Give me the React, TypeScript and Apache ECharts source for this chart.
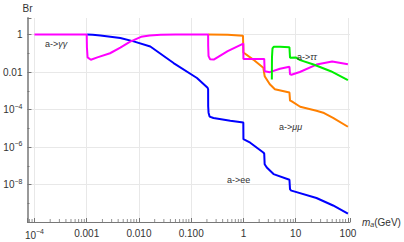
import React, { useEffect, useRef } from "react";
import * as echarts from "echarts";

// a -> gamma gamma (magenta): [mass GeV, Br]
const brGammaGamma: [number, number][] = [
  [1e-4, 1], [0.001, 1], [0.00101, 0.2], [0.00104, 0.06], [0.0012, 0.045],
  [0.0016, 0.06], [0.0028, 0.1], [0.0044, 0.2], [0.0068, 0.42], [0.0079, 0.5],
  [0.011, 0.75], [0.016, 0.88], [0.026, 0.96], [0.05, 0.99], [0.1, 1], [0.211, 1],
  [0.2115, 0.25], [0.215, 0.07], [0.23, 0.048], [0.27, 0.046], [0.5, 0.13],
  [0.95, 0.31], [0.995, 0.33], [1.0, 0.05], [1.5, 0.05], [2.5, 0.05],
  [2.55, 0.011], [3.2, 0.0098], [5, 0.015], [7.6, 0.019], [7.8, 0.0075],
  [8.3, 0.0072], [12, 0.01], [25, 0.025], [50, 0.036], [100, 0.026],
];

// a -> e e (blue)
const brEE: [number, number][] = [
  [0.00102, 1], [0.0013, 0.98], [0.00183, 0.89], [0.0044, 0.65], [0.0079, 0.43],
  [0.0165, 0.23], [0.046, 0.03], [0.129, 0.0048], [0.206, 0.00145], [0.211, 0.0012],
  [0.2115, 1.5e-4], [0.215, 6.8e-5], [0.225, 4.2e-5], [0.267, 3.5e-5], [0.56, 2.5e-5],
  [0.995, 2e-5], [1.0, 2.6e-6], [1.35, 1.7e-6], [2.4, 5.1e-7], [2.5, 4.5e-7],
  [2.55, 1.2e-7], [2.8, 8e-8], [3.77, 3.6e-8], [7.6, 1.8e-8], [7.8, 5.5e-9],
  [8.3, 4.7e-9], [25, 1.9e-9], [52, 7.6e-10], [100, 2.8e-10],
];

// a -> mu mu (orange)
const brMuMu: [number, number][] = [
  [0.2114, 0.99], [0.5, 0.97], [0.98, 0.86], [1.0, 0.11], [1.54, 0.046],
  [2.4, 0.017], [2.55, 0.006], [3.2, 0.0022], [4.0, 0.0012], [7.6, 0.0008],
  [7.8, 0.0003], [8.3, 0.00028], [12.2, 0.00014], [25, 8.5e-5], [35, 6.5e-5],
  [52, 3.6e-5], [100, 1.2e-5],
];

// a -> tau tau (green)
const brTauTau: [number, number][] = [
  [3.5, 0.004], [3.52, 0.06], [3.6, 0.18], [3.8, 0.22], [5, 0.22], [7.6, 0.21],
  [7.8, 0.058], [10, 0.06], [12.2, 0.043], [22, 0.025], [47, 0.011], [100, 0.0037],
];

const xTickExponents = [-4, -3, -2, -1, 0, 1, 2];
const xTickLabels = ["{b|10}{s|−4}", "0.001", "0.010", "0.100", "1", "10", "100"];
const yTickExponents = [0, -2, -4, -6, -8];
const yTickLabels = ["1", "0.01", "{b|10}{s|−4}", "{b|10}{s|−6}", "{b|10}{s|−8}"];

const curveLabels = [
  { text: "a->{g|γγ}", x: 45, y: 44 },
  { text: "a->{g|ττ}", x: 297, y: 57 },
  { text: "a->{g|μμ}", x: 279, y: 127 },
  { text: "a->ee", x: 227, y: 180 },
];

const X_MIN = -4.134;
const X_MAX = 2.04;
const Y_MIN = -10;
const Y_MAX = 0.88;

const toLog = (d: [number, number][]) => d.map(([m, b]) => [Math.log10(m), Math.log10(b)]);

const FONT = "Liberation Sans, Arial, sans-serif";
const rich = {
  b: { fontSize: 10, color: "#333", fontFamily: FONT },
  s: { fontSize: 7, color: "#333", fontFamily: FONT, padding: [0, 0, 7, 0] },
};

export default function App() {
  const ref = useRef<HTMLDivElement>(null);
  useEffect(() => {
    if (!ref.current) return;
    const chart = echarts.init(ref.current, undefined, { renderer: "svg" });

    const minorTicks: number[][] = [];
    for (let n = -5; n <= 1; n++) {
      for (let k = 2; k <= 9; k++) {
        const v = Math.log10(k) + n;
        if (v >= X_MIN && v <= X_MAX) minorTicks.push([v, Y_MIN]);
      }
    }

    const isInt = (v: number) => Math.abs(v - Math.round(v)) < 1e-6;

    chart.setOption({
      animation: false,
      backgroundColor: "#fff",
      grid: { left: 27, right: 54, top: 18, bottom: 20, containLabel: false },
      xAxis: {
        type: "value",
        min: X_MIN,
        max: X_MAX,
        minInterval: 1,
        maxInterval: 1,
        name: "{i|m}{sub|a}{n|(GeV)}",
        nameLocation: "end",
        nameGap: 12,
        nameTextStyle: {
          rich: {
            i: { fontSize: 10, fontStyle: "italic", color: "#333", fontFamily: FONT },
            sub: { fontSize: 7, fontStyle: "italic", color: "#333", fontFamily: FONT, padding: [5, 0, 0, 0] },
            n: { fontSize: 10, color: "#333", fontFamily: FONT },
          },
        },
        axisLine: { show: true, onZero: false, lineStyle: { color: "#777", width: 1 } },
        axisTick: { show: true, inside: true, length: 4, lineStyle: { color: "#777" } },
        splitLine: { show: true, showMinLine: false, showMaxLine: false, lineStyle: { color: "#e8e8e8", width: 1 } },
        axisLabel: {
          margin: 6,
          fontSize: 10,
          color: "#333",
          fontFamily: FONT,
          rich,
          formatter: (v: number) => {
            if (!isInt(v)) return "";
            const i = xTickExponents.indexOf(Math.round(v));
            return i >= 0 ? xTickLabels[i] : "";
          },
        },
      },
      yAxis: {
        type: "value",
        min: Y_MIN,
        max: Y_MAX,
        interval: 2,
        name: "Br",
        nameLocation: "end",
        nameGap: 5,
        nameTextStyle: { fontSize: 10, color: "#333", fontFamily: FONT, align: "center" },
        axisLine: { show: true, onZero: false, lineStyle: { color: "#999", width: 2 } },
        axisTick: { show: true, inside: true, length: 4, lineStyle: { color: "#777" } },
        minorTick: { show: true, splitNumber: 2, length: 2, lineStyle: { color: "#777" } },
        splitLine: { show: true, showMinLine: false, showMaxLine: false, lineStyle: { color: "#e8e8e8", width: 1 } },
        axisLabel: {
          margin: 5,
          fontSize: 10,
          color: "#333",
          fontFamily: FONT,
          rich,
          formatter: (v: number) => {
            if (!isInt(v)) return "";
            const i = yTickExponents.indexOf(Math.round(v));
            return i >= 0 ? yTickLabels[i] : "";
          },
        },
      },
      series: [
        {
          type: "scatter",
          silent: true,
          data: minorTicks,
          symbol: "rect",
          symbolSize: [1, 3],
          symbolOffset: [0, -1.5],
          itemStyle: { color: "#777" },
          z: 1,
        },
        { name: "ee", type: "line", data: toLog(brEE), showSymbol: false, lineStyle: { color: "#0000ff", width: 2 }, itemStyle: { color: "#0000ff" }, z: 2 },
        { name: "mumu", type: "line", data: toLog(brMuMu), showSymbol: false, lineStyle: { color: "#ff8000", width: 2 }, itemStyle: { color: "#ff8000" }, z: 3 },
        { name: "gammagamma", type: "line", data: toLog(brGammaGamma), showSymbol: false, lineStyle: { color: "#ff00ff", width: 2 }, itemStyle: { color: "#ff00ff" }, z: 4 },
        { name: "tautau", type: "line", data: toLog(brTauTau), showSymbol: false, lineStyle: { color: "#00ee00", width: 2 }, itemStyle: { color: "#00ee00" }, z: 5 },
      ],
      graphic: curveLabels.map((l) => ({
        type: "text",
        x: l.x,
        y: l.y,
        z: 100,
        style: {
          text: l.text,
          fontSize: 9,
          fill: "#333",
          fontFamily: FONT,
          verticalAlign: "middle",
          rich: { g: { fontSize: 9, fontStyle: "italic", fill: "#333", fontFamily: FONT } },
        },
      })),
    });
    return () => chart.dispose();
  }, []);
  return (
    <div
      ref={ref}
      style={{ position: "fixed", left: 0, top: 0, width: 404, height: 242, background: "#fff" }}
    />
  );
}
